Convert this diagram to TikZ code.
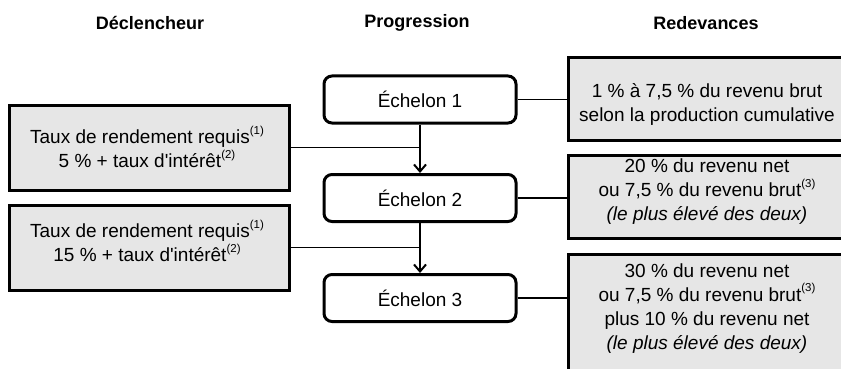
\documentclass[tikz,border=0pt]{standalone}
\usepackage{fontspec}
\setmainfont{Liberation Sans}[Ligatures=TeXOff]
\usetikzlibrary{arrows.meta}
\definecolor{boxgray}{RGB}{230,230,230}
\newcommand\supref[1]{\raisebox{0.5em}{\fontsize{11.5}{12}\selectfont(#1)}}
\tikzset{
  body/.style={font=\fontsize{19}{24}\selectfont, align=center, inner sep=0pt},
  title/.style={font=\fontsize{18}{22}\selectfont\bfseries, inner sep=0pt},
  graybox/.style={draw=black, line width=3pt, fill=boxgray, inner sep=0pt},
  echbox/.style={draw=black, line width=3pt, fill=white, rounded corners=8pt,
    minimum width=192pt, minimum height=47pt, inner sep=0pt,
    font=\fontsize{19}{24}\selectfont},
  link/.style={draw=black, line width=1.3pt},
  flow/.style={draw=black, line width=2pt, -{Straight Barb[length=7pt,width=12pt,line width=2pt]}}
}
\begin{document}
\begin{tikzpicture}[x=1pt,y=-1pt]
\useasboundingbox (0,0) rectangle (841,369);
\fill[white] (0,0) rectangle (841,369);

% titles
\node[title] (t1) at (150,23) {Déclencheur};
\node[title] (t2) at (417,23) {Progression};
\node[title] (t3) at (706,23) {Redevances};

% left trigger boxes
\node[graybox, minimum width=280pt, minimum height=85pt] (L1) at (149,147.5) {};
\node[body] (L1t) at (147,147) {Taux de rendement requis\supref{1}\\5 \% + taux d'intérêt\supref{2}};
\node[graybox, minimum width=280pt, minimum height=85pt] (L2) at (149,247.5) {};
\node[body] (L2t) at (147,241) {Taux de rendement requis\supref{1}\\15 \% + taux d'intérêt\supref{2}};

% progression boxes
\node[echbox] (E1) at (420,99.5) {Échelon 1};
\node[echbox] (E2) at (420,198) {Échelon 2};
\node[echbox] (E3) at (420,298) {Échelon 3};

% right royalty boxes
\node[graybox, minimum width=279pt, minimum height=82pt] (R1) at (707.5,99) {};
\node[body] (R1t) at (707,104.5) {1 \% à 7,5 \% du revenu brut\\selon la production cumulative};
\node[graybox, minimum width=279pt, minimum height=83pt] (R2) at (707.5,196.5) {};
\node[body] (R2t) at (707,192) {20 \% du revenu net\\ou 7,5 \% du revenu brut\supref{3}\\\textit{(le plus élevé des deux)}};
\node[graybox, minimum width=279pt, minimum height=126pt] (R3) at (707.5,317) {};
\node[body] (R3t) at (707,308.5) {30 \% du revenu net\\ou 7,5 \% du revenu brut\supref{3}\\plus 10 \% du revenu net\\\textit{(le plus élevé des deux)}};

% flow arrows
\draw[flow] (E1.south) -- (E2.north);
\draw[flow] (E2.south) -- (E3.north);

% trigger connectors
\draw[link] (L1.east) -- (L1.east -| E1.south);
\draw[link] (L2.east) -- (L2.east -| E2.south);

% royalty connectors
\draw[link] (E1.east) -- (E1.east -| R1.west);
\draw[link] (E2.east) -- (E2.east -| R2.west);
\draw[link] (E3.east) -- (E3.east -| R3.west);
\end{tikzpicture}
\end{document}
